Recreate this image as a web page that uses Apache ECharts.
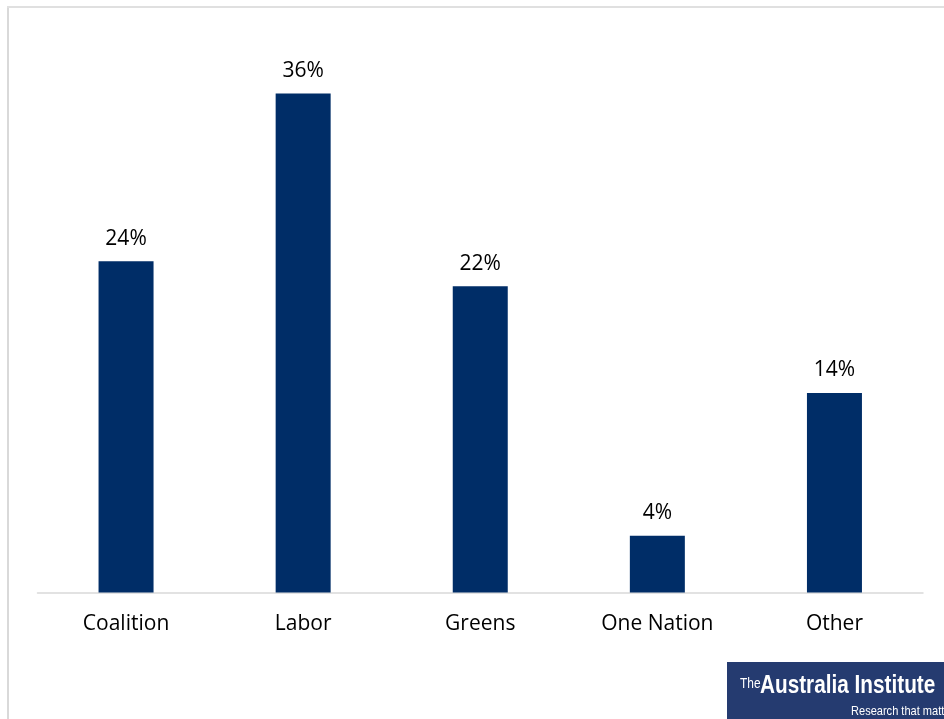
<!DOCTYPE html>
<html><head><meta charset="utf-8">
<script src="https://cdn.jsdelivr.net/npm/echarts@6/dist/echarts.min.js"></script>
<style>html,body{margin:0;padding:0;background:#fff}#c{width:944px;height:719px}</style>
</head><body><div id="c"></div>
<script>
const categories = ['Coalition', 'Labor', 'Greens', 'One Nation', 'Other'];
const values = [23.9, 36.0, 22.1, 4.1, 14.4];

const chart = echarts.init(document.getElementById('c'), null, {renderer: 'canvas'});
chart.setOption({
  animation: false,
  backgroundColor: '#ffffff',
  grid: {left: 37.5, right: 21, top: 38, bottom: 126.5, containLabel: false},
  xAxis: {
    type: 'category',
    data: categories,
    axisLine: {lineStyle: {color: '#d9d9d9', width: 1.5}},
    axisTick: {show: false},
    axisLabel: {color: '#000', fontSize: 21, fontFamily: 'Open Sans, sans-serif', margin: 21}
  },
  yAxis: {
    type: 'value', min: 0, max: 40, show: false,
    splitLine: {show: false}
  },
  series: [{
    type: 'bar',
    data: values,
    barWidth: 55,
    itemStyle: {color: '#002d67'},
    label: {
      show: true, position: 'top', distance: 12,
      color: '#000', fontSize: 21, fontFamily: 'Open Sans, sans-serif',
      formatter: p => Math.round(p.value) + '%'
    }
  }],
  graphic: [
    {type: 'rect', shape: {x: 7, y: 6, width: 2, height: 713}, style: {fill: '#d9d9d9'}, silent: true},
    {type: 'rect', shape: {x: 7, y: 6, width: 937, height: 2}, style: {fill: '#e0e0e0'}, silent: true},
    {type: 'rect', shape: {x: 727, y: 662, width: 217, height: 57}, style: {fill: '#253b70'}, silent: true},
    {type: 'text', x: 740, y: 677, scaleX: 0.85, style: {text: 'The', fill: '#fff', font: '14px "Liberation Sans", sans-serif'}},
    {type: 'text', x: 760, y: 674, scaleX: 0.83, style: {text: 'Australia Institute', fill: '#fff', font: 'bold 25px "Liberation Sans", sans-serif'}},
    {type: 'text', x: 851, y: 705, scaleX: 0.85, style: {text: 'Research that matters', fill: '#fff', font: '13px "Liberation Sans", sans-serif'}}
  ]
});
</script></body></html>
